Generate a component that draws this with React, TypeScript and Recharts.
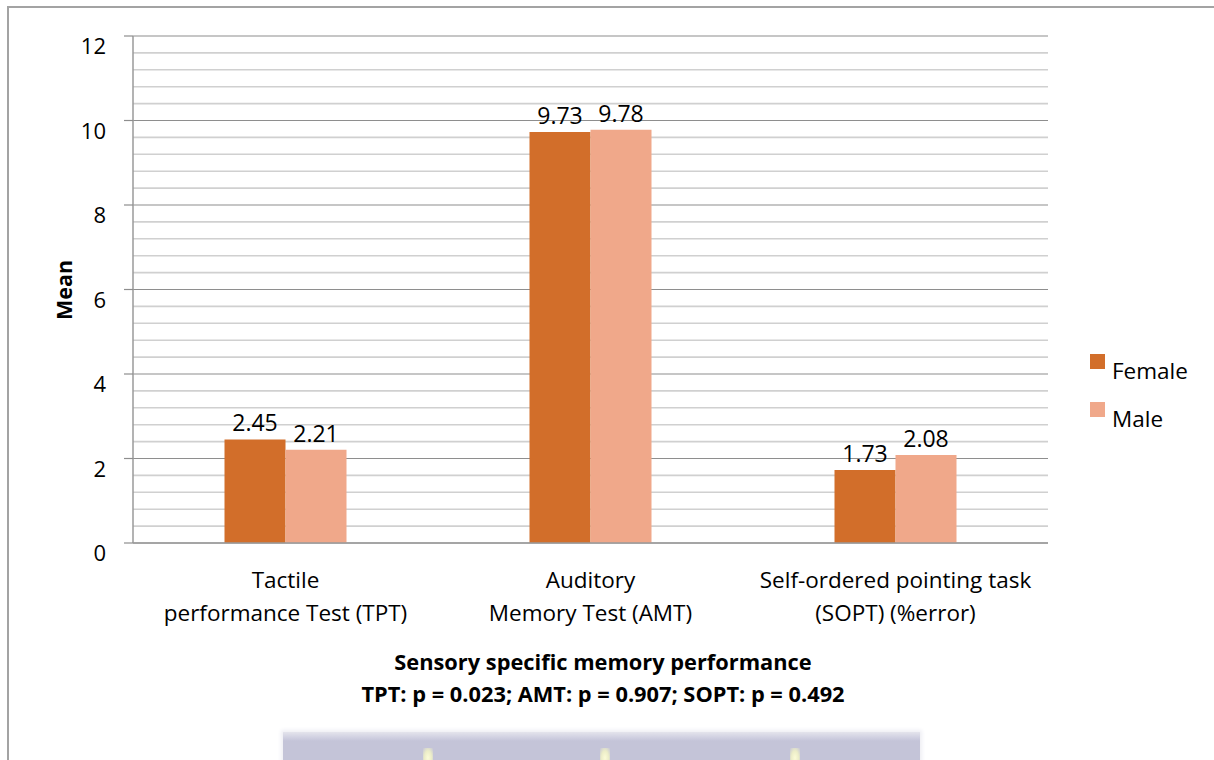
import { BarChart, Bar, XAxis, YAxis, CartesianGrid, Legend, LabelList, Label } from 'recharts';

const categories = [
  'Tactile\nperformance Test (TPT)',
  'Auditory\nMemory Test (AMT)',
  'Self-ordered pointing task\n(SOPT) (%error)',
];
const female = [2.45, 9.73, 1.73];
const male = [2.21, 9.78, 2.08];
const majorTicks = [0, 2, 4, 6, 8, 10, 12];
const minorTicks = [0.4, 0.8, 1.2, 1.6, 2.4, 2.8, 3.2, 3.6, 4.4, 4.8, 5.2, 5.6, 6.4, 6.8, 7.2, 7.6, 8.4, 8.8, 9.2, 9.6, 10.4, 10.8, 11.2, 11.6];
const Y_MAX = 12;

const FONT = "'Open Sans', sans-serif";
const FEMALE_COLOR = '#D26E2A';
const MALE_COLOR = '#F0A88A';

const data = categories.map((name, i) => ({ name, Female: female[i], Male: male[i] }));

// pixel position of a minor gridline, through the axis scale when it is exposed
const minorLines = (args: any) => {
  const scale = args?.yAxis?.scale;
  return minorTicks.map((v) => {
    if (typeof scale === 'function') return scale(v);
    if (scale && typeof scale.map === 'function') return scale.map(v);
    const { top, height } = args.offset;
    return top + height * (1 - v / Y_MAX);
  });
};

const YTick = (props: any) => {
  const { x, y, payload } = props;
  return (
    <text x={x} y={y} dy={18} textAnchor="end" fontFamily={FONT} fontSize={22} fill="#000">
      {payload.value}
    </text>
  );
};

const XTick = (props: any) => {
  const { x, y, payload } = props;
  const lines = String(payload.value).split('\n');
  return (
    <text textAnchor="middle" fontFamily={FONT} fontSize={22.5} fill="#000">
      {lines.map((l, i) => (
        <tspan key={i} x={x} y={y + 45 + i * 33}>
          {l}
        </tspan>
      ))}
    </text>
  );
};

const LegendBox = () => (
  <div style={{ fontFamily: FONT, fontSize: 22.5, color: '#000' }}>
    {[
      { name: 'Female', color: FEMALE_COLOR },
      { name: 'Male', color: MALE_COLOR },
    ].map((item) => (
      <div key={item.name} style={{ display: 'flex', alignItems: 'flex-start', height: 48 }}>
        <span style={{ width: 15, height: 15, background: item.color, display: 'inline-block', marginRight: 7 }} />
        <span style={{ lineHeight: '24px', marginTop: 5 }}>{item.name}</span>
      </div>
    ))}
  </div>
);

export default function App() {
  return (
    <div style={{ position: 'fixed', left: 0, top: 0, width: 1214, height: 760, overflow: 'hidden', background: '#fff' }}>
      <div style={{ position: 'absolute', left: 7, top: 6, width: 1240, height: 800, border: '2px solid #a3a3a3', boxSizing: 'border-box' }} />
      <BarChart
        width={1214}
        height={760}
        data={data}
        margin={{ top: 36, right: 166, bottom: 117, left: 33 }}
        barCategoryGap="30%"
        barGap={0}
        style={{ position: 'absolute', left: 0, top: 0 }}
      >
        {/* light minor lines every 0.4, darker major lines every 2 */}
        <CartesianGrid vertical={false} stroke="#d0d0d0" strokeWidth={1.6} horizontalCoordinatesGenerator={minorLines} />
        <CartesianGrid vertical={false} stroke="#8e8e8e" strokeWidth={1.2} />
        <XAxis
          dataKey="name"
          height={100}
          tickLine={false}
          tickSize={0}
          tickMargin={0}
          axisLine={{ stroke: '#9a9a9a', strokeWidth: 1.5 }}
          tick={<XTick />}
          interval={0}
        >
          <Label
            content={() => (
              <text textAnchor="middle" fontFamily={FONT} fontSize={21.8} fontWeight="bold" fill="#000">
                <tspan x={603} y={670}>Sensory specific memory performance</tspan>
                <tspan x={603} y={702}>TPT: p = 0.023; AMT: p = 0.907; SOPT: p = 0.492</tspan>
              </text>
            )}
          />
        </XAxis>
        <YAxis
          width={100}
          domain={[0, Y_MAX]}
          ticks={majorTicks}
          interval={0}
          tickSize={9}
          tickMargin={18}
          tickLine={{ stroke: '#8e8e8e', strokeWidth: 1.2 }}
          axisLine={{ stroke: '#9a9a9a', strokeWidth: 1.5 }}
          tick={<YTick />}
        >
          <Label
            content={() => (
              <text
                x={63}
                y={290}
                transform="rotate(-90 63 290)"
                textAnchor="middle"
                dominantBaseline="central"
                fontFamily={FONT}
                fontSize={21.5}
                fontWeight="bold"
                fill="#000"
              >
                Mean
              </text>
            )}
          />
        </YAxis>
        <Legend
          layout="horizontal"
          verticalAlign="middle"
          content={<LegendBox />}
          wrapperStyle={{ position: 'absolute', left: 1090, top: 354, width: 120, height: 100 }}
        />
        <Bar dataKey="Female" fill={FEMALE_COLOR} isAnimationActive={false}>
          <LabelList dataKey="Female" position="top" offset={8} fontFamily={FONT} fontSize={23} fill="#000" />
        </Bar>
        <Bar dataKey="Male" fill={MALE_COLOR} isAnimationActive={false}>
          <LabelList dataKey="Male" position="top" offset={8} fontFamily={FONT} fontSize={23} fill="#000" />
        </Bar>
      </BarChart>
      {/* strip of the next figure peeking in at the bottom */}
      <div
        style={{
          position: 'absolute',
          left: 283,
          top: 732,
          width: 637,
          height: 40,
          background: 'linear-gradient(to bottom, #e4e4ec 0px, #d2d2e2 5px, #c4c4d8 9px, #c4c4d8 100%)',
          boxShadow: '0 0 4px 2px #eeeef4',
        }}
      >
        {[140, 317, 507].map((left) => (
          <div
            key={left}
            style={{
              position: 'absolute',
              left,
              top: 16,
              width: 10,
              height: 14,
              background: 'radial-gradient(ellipse at 50% 70%, #fbfbd8 0%, #ecedc8 50%, rgba(196,196,216,0) 100%)',
            }}
          />
        ))}
      </div>
    </div>
  );
}
